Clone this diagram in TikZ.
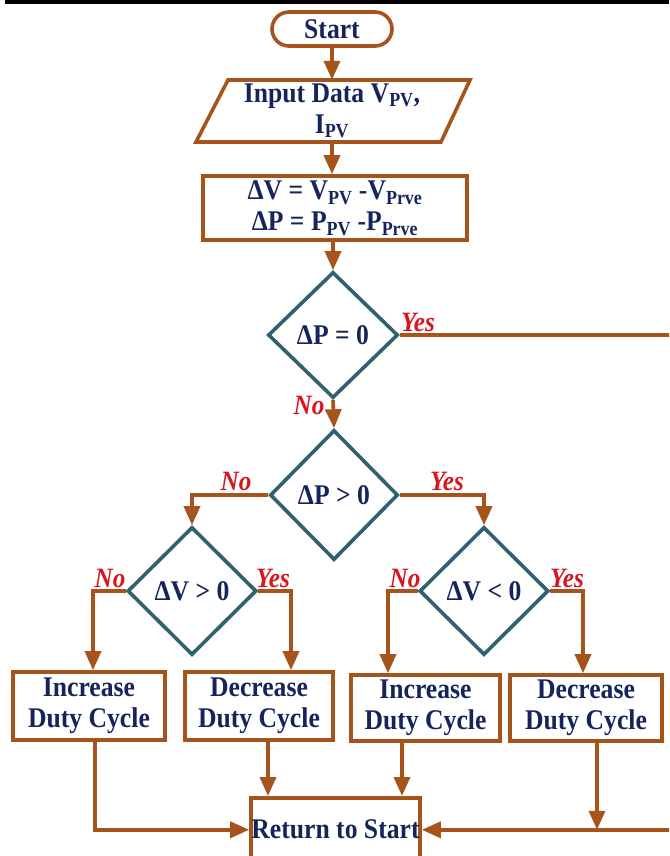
\documentclass[tikz,border=0pt]{standalone}
\usepackage{fontspec}
\setmainfont[FakeStretch=0.9]{Liberation Serif}
\usetikzlibrary{shapes.geometric,arrows.meta,calc}
\definecolor{brn}{RGB}{166,84,27}
\definecolor{tealx}{RGB}{45,98,110}
\definecolor{navy}{RGB}{22,36,92}
\definecolor{redx}{RGB}{214,22,32}
\begin{document}
\begin{tikzpicture}[x=1pt,y=-1pt,
  conn/.style={draw=brn,line width=3.6pt},
  arr/.style={conn,-{Triangle[length=19pt,width=16pt]}},
  txt/.style={font=\fontsize{28.5}{31}\selectfont\bfseries,text=navy,align=center},
  box/.style={txt,draw=brn,line width=3.6pt,rectangle,inner sep=0pt},
  dec/.style={txt,draw=tealx,line width=3.6pt,diamond,inner sep=0pt},
  lab/.style={text=redx,font=\fontsize{28}{30}\selectfont\bfseries\itshape,inner sep=0pt}]
\useasboundingbox (0,0) rectangle (669,856);
\clip (0,0) rectangle (669,856);
\draw[black,line width=3.5pt] (5,2) -- (669,2);

\node[box,rounded corners=17pt,minimum width=120pt,minimum height=34pt] (start) at (332,29) {Start};
\node[txt,inner sep=0pt,minimum width=245pt,minimum height=62pt] (inp) at (332,111) {Input Data V\textsubscript{PV},\\I\textsubscript{PV}};
\draw[brn,line width=3.6pt,line join=miter] (228,80) -- (470,80) -- (441,142) -- (196,142) -- cycle;
\node[box,minimum width=264pt,minimum height=64pt] (calc) at (335,208) {ΔV = V\textsubscript{PV} -V\textsubscript{Prve}\\ΔP = P\textsubscript{PV} -P\textsubscript{Prve}};

\node[dec,minimum width=130pt,minimum height=126pt] (d1) at (333,335) {ΔP = 0};
\node[dec,minimum width=128pt,minimum height=130pt] (d2) at (334,495) {ΔP > 0};
\node[dec,minimum width=129pt,minimum height=128pt] (d3) at (192,591) {ΔV > 0};
\node[dec,minimum width=129pt,minimum height=128pt] (d4) at (484,591) {ΔV < 0};

\node[box,minimum width=152pt,minimum height=68pt] (b1) at (89,706) {Increase\\Duty Cycle};
\node[box,minimum width=148pt,minimum height=68pt] (b2) at (259,706) {Decrease\\Duty Cycle};
\node[box,minimum width=149pt,minimum height=66pt] (b3) at (425.5,708) {Increase\\Duty Cycle};
\node[box,minimum width=152pt,minimum height=66pt] (b4) at (586,708) {Decrease\\Duty Cycle};
\node[box,anchor=north,minimum width=169pt,inner xsep=0pt,text height=41pt,text depth=39pt] (ret) at (335.5,796) {Return to Start};

\node[lab] (y1) at (418,322) {Yes};
\node[lab] (n1) at (309,405) {No};
\node[lab] (n2) at (236,481) {No};
\node[lab] (y2) at (447,481) {Yes};
\node[lab] (n3) at (110,578) {No};
\node[lab] (y3) at (273,578) {Yes};
\node[lab] (n4) at (405,578) {No};
\node[lab] (y4) at (567,578) {Yes};

\coordinate (rc) at (674,600);
\coordinate (rl) at ($(ret.west)+(0,8pt)$);
\coordinate (rr) at ($(ret.east)+(0,8pt)$);

\draw[arr] (start.south) -- (start.south |- inp.north);
\draw[arr] (inp.south) -- (inp.south |- calc.north);
\draw[arr] (d1.north |- calc.south) -- (d1.north);
\draw[arr] (d1.south) -- (d2.north);
\draw[arr] (d2.west) -| (d3.north);
\draw[arr] (d2.east) -| (d4.north);
\draw[arr] (d3.west) -| ([xshift=4pt]b1.north);
\draw[arr] (d3.east) -| ([xshift=32pt]b2.north);
\draw[arr] (d4.west) -| ([xshift=-37.5pt]b3.north);
\draw[arr] (d4.east) -| ([xshift=-3pt]b4.north);
\draw[arr] ([xshift=6pt]b1.south) |- (rl);
\draw[arr] ([xshift=9pt]b2.south) -- ([xshift=9pt]b2.south |- ret.north);
\draw[arr] ([xshift=-23.5pt]b3.south) -- ([xshift=-23.5pt]b3.south |- ret.north);
\draw[arr] ([xshift=11pt]b4.south) -- ([xshift=11pt]b4.south |- rl);
\draw[arr] (d1.east) -| (rc) |- (rr);
\end{tikzpicture}
\end{document}
